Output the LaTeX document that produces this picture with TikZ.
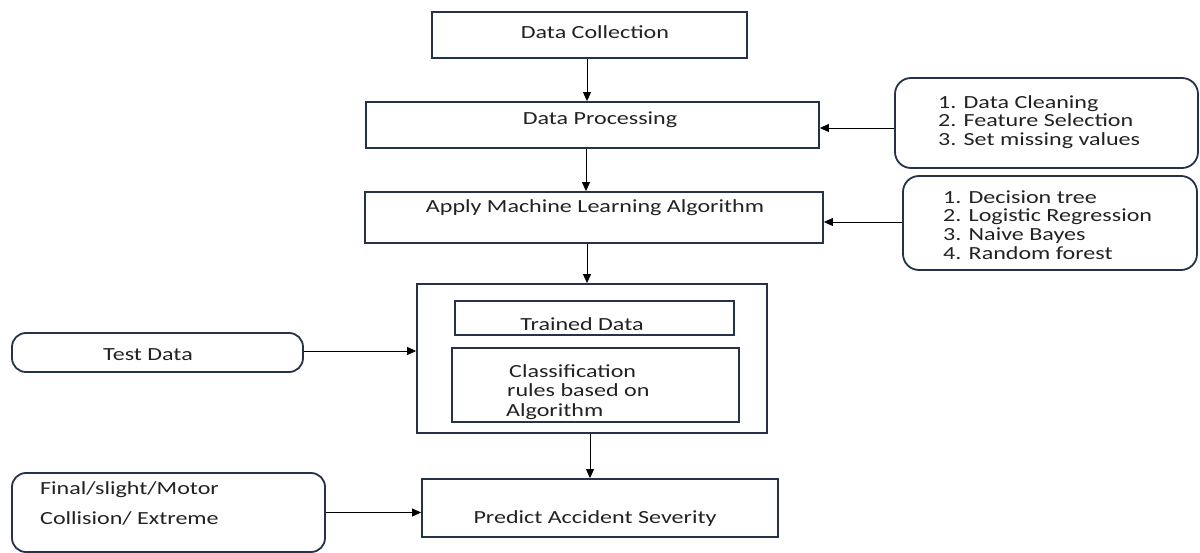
\documentclass[tikz,border=0pt]{standalone}
\usepackage{fontspec}
\setmainfont{Carlito}[FakeStretch=1.3]
\usetikzlibrary{arrows.meta,calc}
\definecolor{bc}{HTML}{25324A}
\definecolor{tc}{HTML}{222222}
\begin{document}
\begin{tikzpicture}[x=1pt,y=-1pt,
 box/.style={draw=bc, line width=1.8pt, rectangle, inner sep=0pt},
 rbox/.style={box, rounded corners=14pt},
 txt/.style={text=tc, font=\fontsize{18.5}{18.5}\selectfont, inner sep=0pt},
 arr/.style={-{Triangle[length=9pt,width=8pt]}, line width=0.9pt, draw=black}
]
\useasboundingbox[fill=white] (0,0) rectangle (1200,553);

% boxes
\node[box, minimum width=315pt, minimum height=46pt] (dc) at (589.5,35) {};
\node[box, minimum width=453pt, minimum height=46pt] (dp) at (592.5,125) {};
\node[box, minimum width=458pt, minimum height=51pt] (ml) at (594,217.5) {};
\node[box, minimum width=350pt, minimum height=149pt] (big) at (592,358.5) {};
\node[box, minimum width=279pt, minimum height=34pt] (trained) at (594.5,318) {};
\node[box, minimum width=287pt, minimum height=74pt] (cls) at (595.5,385) {};
\node[rbox, minimum width=291pt, minimum height=39pt] (test) at (157.5,352.5) {};
\node[rbox, minimum width=313pt, minimum height=79pt] (final) at (168.5,512.5) {};
\node[box, minimum width=356pt, minimum height=58pt] (predict) at (600,508) {};
\node[rbox, rounded corners=16pt, minimum width=303pt, minimum height=90pt] (r1) at (1046.5,123) {};
\node[rbox, rounded corners=16pt, minimum width=294pt, minimum height=94pt] (r2) at (1050,223) {};

% texts
\node[txt] (tdc) at (595,32) {Data Collection};
\node[txt] (tdp) at (600,120) {Data Processing};
\node[txt] (tml) at (595,208) {Apply Machine Learning Algorithm};
\node[txt] (ttr) at (582,324) {Trained Data};
\node[txt, align=left, anchor=west, font=\fontsize{18.5}{19.5}\selectfont] (tcls) at (506,392) {\hspace*{3pt}Classification\\ \hspace*{1pt}rules based on\\ Algorithm};
\node[txt] (tte) at (148,355) {Test Data};
\node[txt, align=left, anchor=west, font=\fontsize{18.5}{30}\selectfont] (tfi) at (40,503) {Final/slight/Motor\\ Collision/ Extreme};
\node[txt] (tpr) at (595,519) {Predict Accident Severity};
\node[txt, align=left, anchor=west] (tr1) at (938,122) {1. Data Cleaning\\ 2. Feature Selection\\ 3. Set missing values};
\node[txt, align=left, anchor=west, font=\fontsize{18.5}{18.7}\selectfont] (tr2) at (943,225) {1. Decision tree\\ 2. Logistic Regression\\ 3. Naive Bayes\\ 4. Random forest};

% connectors
\draw[arr] ([xshift=-2.5pt]dc.south) -- ([xshift=-2.5pt]dc.south |- dp.north);
\draw[arr] ([xshift=-6.5pt]dp.south) -- ([xshift=-6.5pt]dp.south |- ml.north);
\draw[arr] ([xshift=-7pt]ml.south) -- ([xshift=-7pt]ml.south |- big.north);
\draw[arr] ([xshift=-2pt]big.south) -- ([xshift=-2pt]big.south |- predict.north);
\draw[arr] ([yshift=-5pt]r1.west) -- ([yshift=-5pt]r1.west -| dp.east);
\draw[arr] ([yshift=1pt]r2.west) -- ([yshift=1pt]r2.west -| ml.east);
\draw[arr] ([yshift=1.5pt]test.east) -- ([yshift=1.5pt]test.east -| big.west);
\draw[arr] (final.east) -- (final.east -| predict.west);
\end{tikzpicture}
\end{document}
